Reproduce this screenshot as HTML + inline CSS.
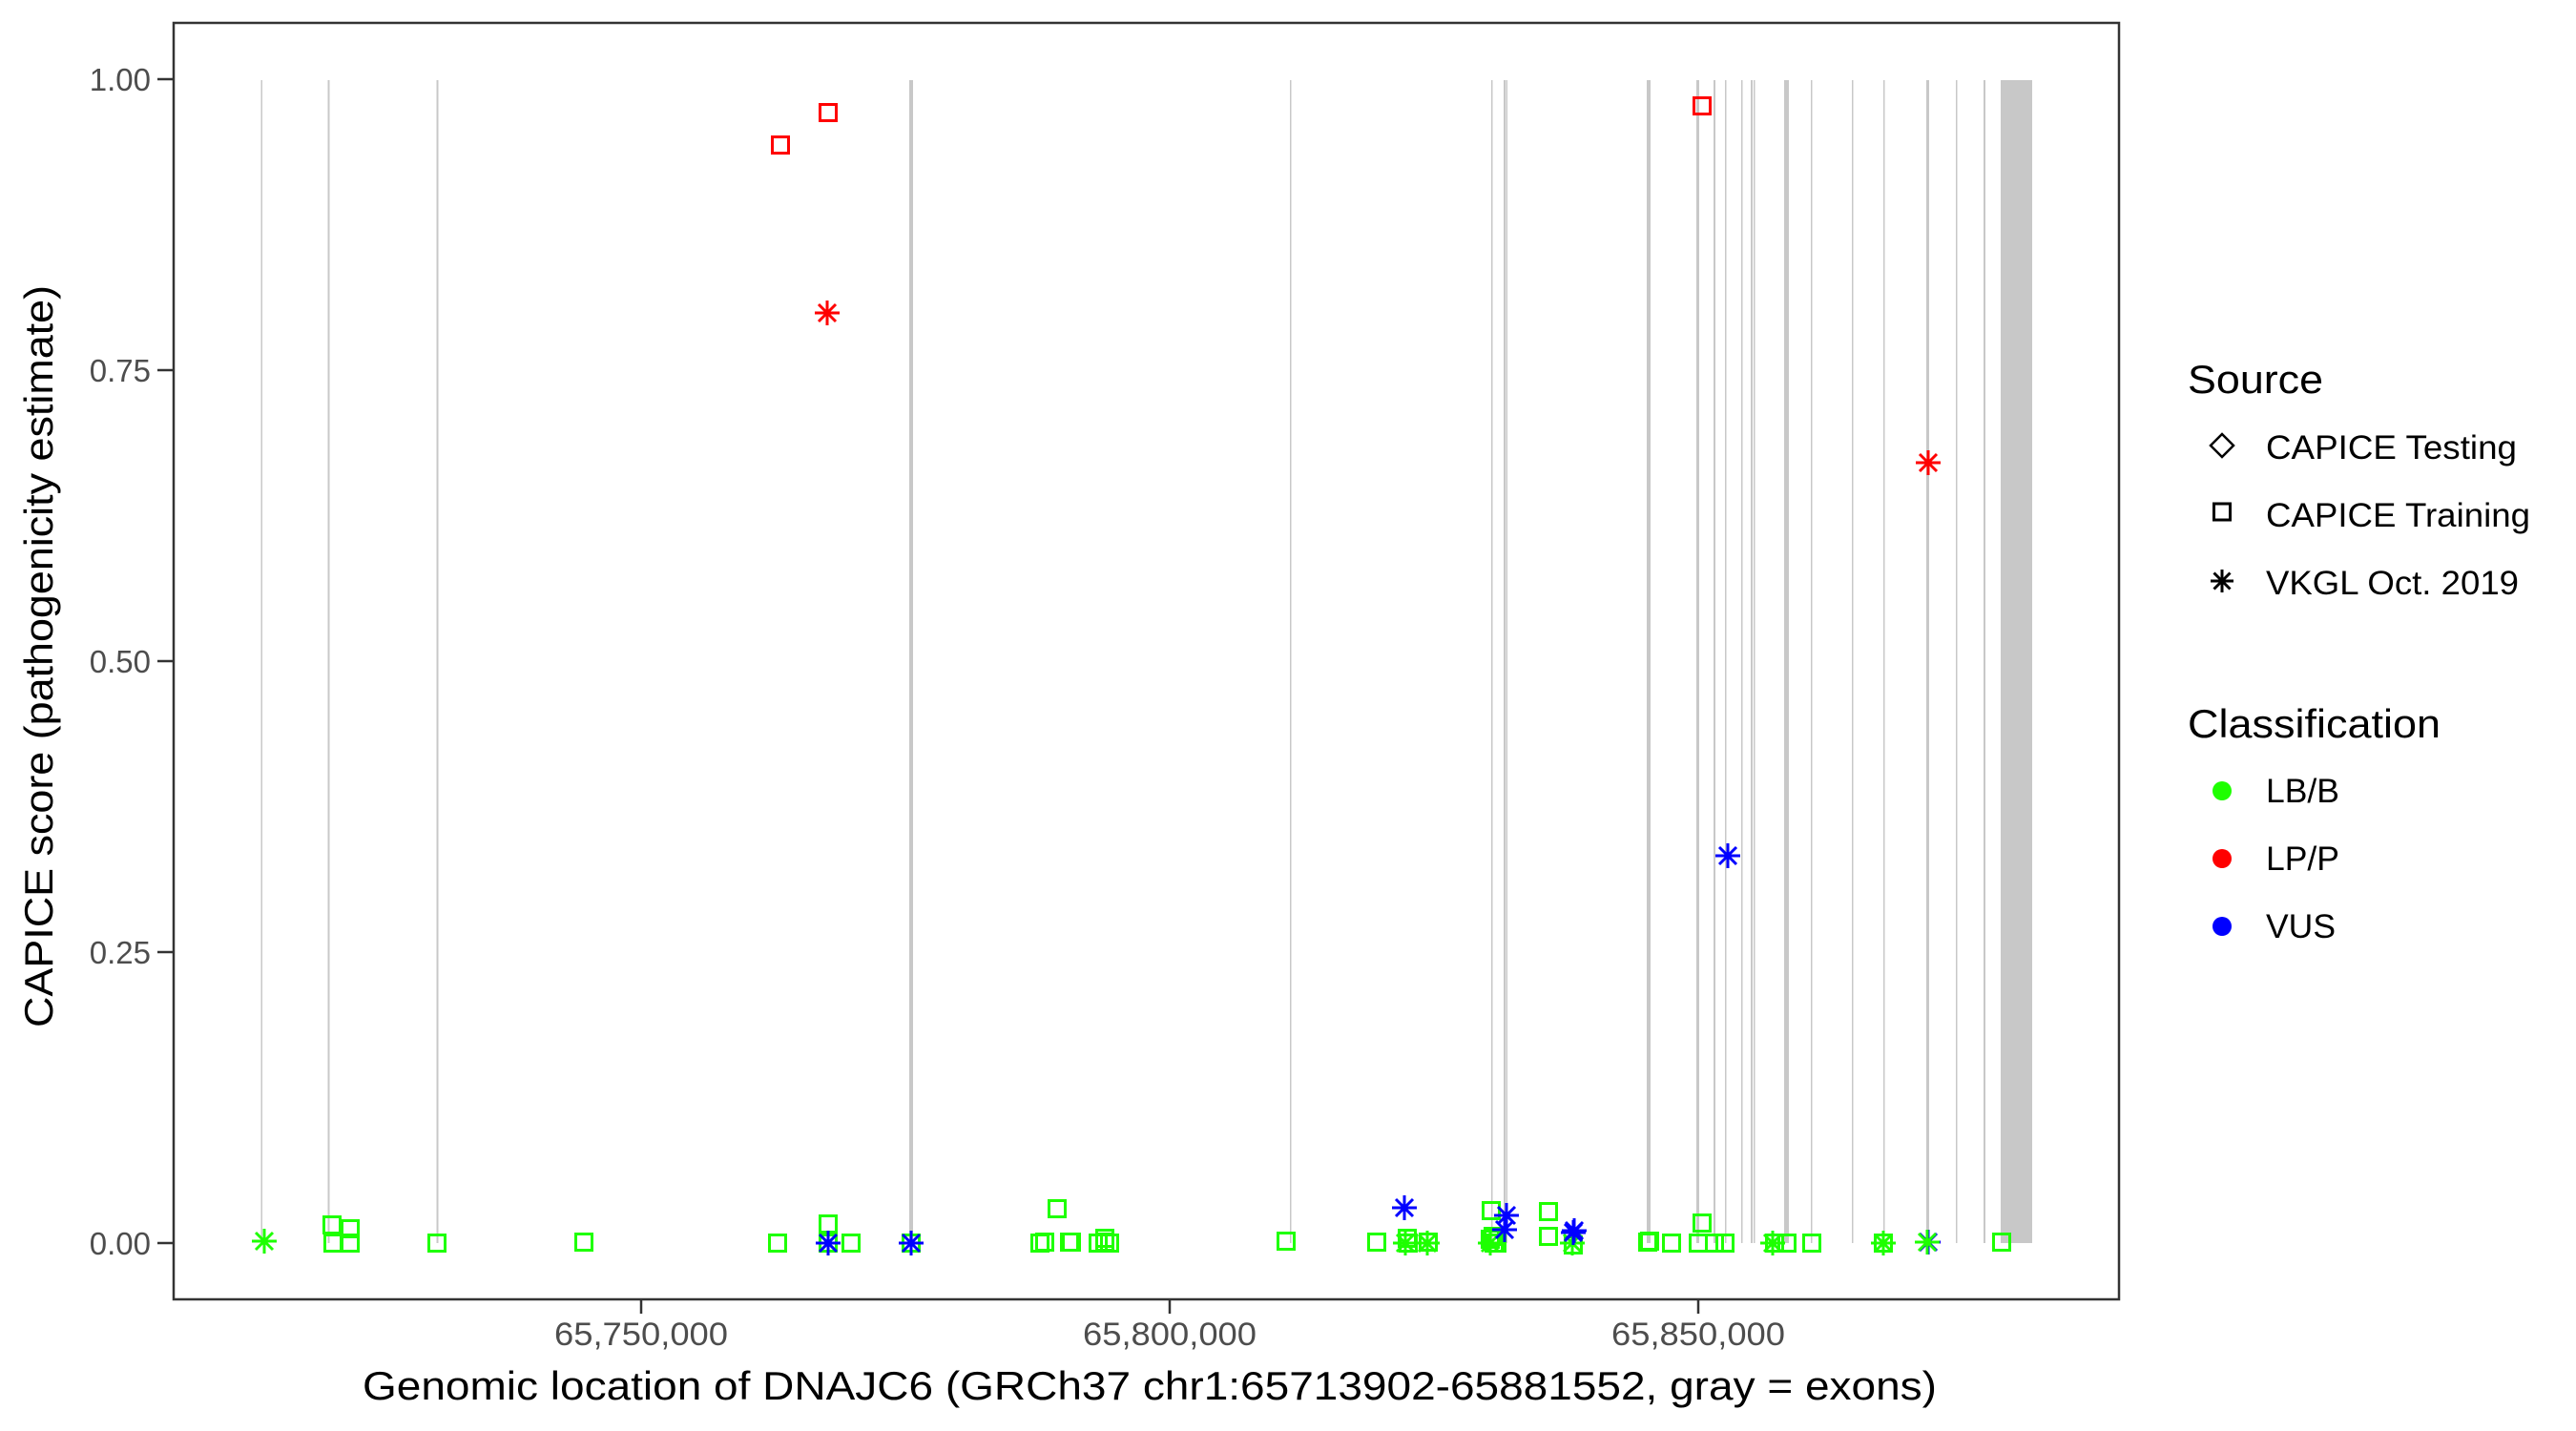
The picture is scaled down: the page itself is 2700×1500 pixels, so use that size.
<!DOCTYPE html>
<html><head><meta charset="utf-8"><style>html,body{margin:0;padding:0;background:#fff}svg{display:block}</style></head>
<body>
<svg width="2700" height="1500" viewBox="0 0 2700 1500" xmlns="http://www.w3.org/2000/svg" xmlns:xlink="http://www.w3.org/1999/xlink" font-family="Liberation Sans, Arial, sans-serif">
<defs>
<g id="sqG"><rect x="-8.5" y="-8.5" width="17" height="17" fill="none" stroke="#1eff00" stroke-width="3"/></g>
<g id="sqR"><rect x="-8.5" y="-8.5" width="17" height="17" fill="none" stroke="#ff0000" stroke-width="3"/></g>
<g id="asG" stroke="#1eff00" stroke-width="3"><line x1="-13" y1="0" x2="13" y2="0"/><line x1="0" y1="-13" x2="0" y2="13"/><line x1="-9" y1="-9" x2="9" y2="9"/><line x1="-9" y1="9" x2="9" y2="-9"/></g>
<g id="asB" stroke="#0000ff" stroke-width="3"><line x1="-13" y1="0" x2="13" y2="0"/><line x1="0" y1="-13" x2="0" y2="13"/><line x1="-9" y1="-9" x2="9" y2="9"/><line x1="-9" y1="9" x2="9" y2="-9"/></g>
<g id="asR" stroke="#ff0000" stroke-width="3"><line x1="-13" y1="0" x2="13" y2="0"/><line x1="0" y1="-13" x2="0" y2="13"/><line x1="-9" y1="-9" x2="9" y2="9"/><line x1="-9" y1="9" x2="9" y2="-9"/></g>
</defs>
<rect width="2700" height="1500" fill="#fff"/>
<g fill="#c8c8c8">
<rect x="273.5" y="84" width="1.5" height="1219"/>
<rect x="343.5" y="84" width="2" height="1219"/>
<rect x="457.5" y="84" width="2" height="1219"/>
<rect x="953" y="84" width="4" height="1219"/>
<rect x="1352" y="84" width="1.5" height="1219"/>
<rect x="1563" y="84" width="1.5" height="1219"/>
<rect x="1576" y="84" width="2" height="1219"/>
<rect x="1578.5" y="84" width="1.5" height="1219"/>
<rect x="1726" y="84" width="4" height="1219"/>
<rect x="1778" y="84" width="3" height="1219"/>
<rect x="1796" y="84" width="2" height="1219"/>
<rect x="1808" y="84" width="1.5" height="1219"/>
<rect x="1825" y="84" width="1.5" height="1219"/>
<rect x="1835" y="84" width="2" height="1219"/>
<rect x="1838" y="84" width="1.5" height="1219"/>
<rect x="1870" y="84" width="5" height="1219"/>
<rect x="1898" y="84" width="1.5" height="1219"/>
<rect x="1941" y="84" width="1.5" height="1219"/>
<rect x="1974" y="84" width="1.5" height="1219"/>
<rect x="2019" y="84" width="3" height="1219"/>
<rect x="2050" y="84" width="1.5" height="1219"/>
<rect x="2079" y="84" width="2" height="1219"/>
<rect x="2097" y="84" width="33" height="1219"/>
</g>
<use xlink:href="#asG" x="277" y="1301"/>
<use xlink:href="#sqG" x="348" y="1284"/><use xlink:href="#sqG" x="367" y="1288"/>
<use xlink:href="#sqG" x="349" y="1303"/><use xlink:href="#sqG" x="367" y="1303"/>
<use xlink:href="#sqG" x="458" y="1303"/><use xlink:href="#sqG" x="612" y="1302"/>
<use xlink:href="#sqG" x="815" y="1303"/>
<use xlink:href="#sqG" x="868" y="1283"/><use xlink:href="#sqG" x="868" y="1303"/>
<use xlink:href="#asG" x="868" y="1303"/><use xlink:href="#asB" x="868" y="1303"/>
<use xlink:href="#sqG" x="892" y="1303"/>
<use xlink:href="#sqG" x="955" y="1303"/><use xlink:href="#asB" x="955" y="1303"/>
<use xlink:href="#sqG" x="1108" y="1267"/>
<use xlink:href="#sqG" x="1090" y="1303"/><use xlink:href="#sqG" x="1095" y="1302"/>
<use xlink:href="#sqG" x="1121" y="1302"/><use xlink:href="#sqG" x="1123" y="1302"/>
<use xlink:href="#sqG" x="1151" y="1303"/><use xlink:href="#sqG" x="1158" y="1302"/><use xlink:href="#sqG" x="1158" y="1298"/><use xlink:href="#sqG" x="1163" y="1303"/>
<use xlink:href="#sqG" x="1348" y="1301"/>
<use xlink:href="#sqG" x="1443" y="1302"/>
<use xlink:href="#asB" x="1472" y="1266"/>
<use xlink:href="#sqG" x="1475" y="1298"/><use xlink:href="#sqG" x="1476" y="1303"/>
<use xlink:href="#asG" x="1473" y="1303"/><use xlink:href="#asG" x="1496" y="1303"/><use xlink:href="#sqG" x="1497" y="1302"/>
<use xlink:href="#sqG" x="1563" y="1269"/>
<use xlink:href="#sqG" x="1562" y="1299"/><use xlink:href="#sqG" x="1565" y="1296"/><use xlink:href="#sqG" x="1566" y="1303"/><use xlink:href="#sqG" x="1569" y="1303"/>
<use xlink:href="#asG" x="1562" y="1303"/>
<use xlink:href="#asB" x="1579" y="1274"/><use xlink:href="#asB" x="1577" y="1289"/>
<use xlink:href="#sqG" x="1623" y="1270"/><use xlink:href="#sqG" x="1623" y="1296"/>
<use xlink:href="#sqG" x="1649" y="1305"/><use xlink:href="#asG" x="1648" y="1303"/>
<use xlink:href="#asB" x="1649" y="1292"/><use xlink:href="#asB" x="1650" y="1290"/>
<use xlink:href="#sqG" x="1727" y="1302"/><use xlink:href="#sqG" x="1729" y="1301"/>
<use xlink:href="#sqG" x="1752" y="1303"/>
<use xlink:href="#sqG" x="1784" y="1282"/><use xlink:href="#sqG" x="1780" y="1303"/><use xlink:href="#sqG" x="1797" y="1303"/><use xlink:href="#sqG" x="1808" y="1303"/>
<use xlink:href="#asG" x="1858" y="1303"/><use xlink:href="#sqG" x="1860" y="1303"/><use xlink:href="#sqG" x="1873" y="1303"/>
<use xlink:href="#sqG" x="1899" y="1303"/>
<use xlink:href="#asG" x="1974" y="1303"/><use xlink:href="#sqG" x="1974" y="1303"/>
<use xlink:href="#asB" x="2021" y="1302"/><use xlink:href="#asG" x="2020" y="1302"/>
<use xlink:href="#sqG" x="2098" y="1302"/>
<use xlink:href="#sqR" x="818" y="152"/><use xlink:href="#sqR" x="868" y="118"/>
<use xlink:href="#asR" x="867" y="328"/>
<use xlink:href="#sqR" x="1784" y="111"/>
<use xlink:href="#asR" x="2021" y="485"/>
<use xlink:href="#asB" x="1811" y="897"/>
<rect x="182" y="24" width="2039" height="1338" fill="none" stroke="#333" stroke-width="2.5"/>
<g stroke="#333" stroke-width="2.5">
<line x1="165" y1="83" x2="182" y2="83"/><line x1="165" y1="388" x2="182" y2="388"/>
<line x1="165" y1="693" x2="182" y2="693"/><line x1="165" y1="998" x2="182" y2="998"/>
<line x1="165" y1="1303" x2="182" y2="1303"/>
<line x1="672" y1="1362" x2="672" y2="1377"/><line x1="1226" y1="1362" x2="1226" y2="1377"/><line x1="1780" y1="1362" x2="1780" y2="1377"/>
</g>
<g fill="#4d4d4d" font-size="33" text-anchor="end">
<text x="158" y="95">1.00</text><text x="158" y="400">0.75</text>
<text x="158" y="705">0.50</text><text x="158" y="1010">0.25</text><text x="158" y="1315">0.00</text>
</g>
<g fill="#4d4d4d" font-size="34" text-anchor="middle">
<text x="672" y="1410" textLength="182" lengthAdjust="spacingAndGlyphs">65,750,000</text>
<text x="1226" y="1410" textLength="182" lengthAdjust="spacingAndGlyphs">65,800,000</text>
<text x="1780" y="1410" textLength="182" lengthAdjust="spacingAndGlyphs">65,850,000</text>
</g>
<text x="1205" y="1467" font-size="42" text-anchor="middle" fill="#000" textLength="1650" lengthAdjust="spacingAndGlyphs">Genomic location of DNAJC6 (GRCh37 chr1:65713902-65881552, gray = exons)</text>
<text transform="translate(55,688) rotate(-90)" font-size="42" text-anchor="middle" fill="#000" textLength="778" lengthAdjust="spacingAndGlyphs">CAPICE score (pathogenicity estimate)</text>
<g fill="#000">
<text x="2293" y="412" font-size="42" textLength="142" lengthAdjust="spacingAndGlyphs">Source</text>
<text x="2375" y="481" font-size="35" textLength="263" lengthAdjust="spacingAndGlyphs">CAPICE Testing</text>
<text x="2375" y="552" font-size="35" textLength="277" lengthAdjust="spacingAndGlyphs">CAPICE Training</text>
<text x="2375" y="623" font-size="35" textLength="265" lengthAdjust="spacingAndGlyphs">VKGL Oct. 2019</text>
<text x="2293" y="773" font-size="42" textLength="265" lengthAdjust="spacingAndGlyphs">Classification</text>
<text x="2375" y="841" font-size="35" textLength="77" lengthAdjust="spacingAndGlyphs">LB/B</text>
<text x="2375" y="912" font-size="35" textLength="77" lengthAdjust="spacingAndGlyphs">LP/P</text>
<text x="2375" y="983" font-size="35" textLength="73" lengthAdjust="spacingAndGlyphs">VUS</text>
</g>
<polygon points="2329,455 2341,467 2329,479 2317,467" fill="none" stroke="#000" stroke-width="2.5"/>
<rect x="2320.5" y="528" width="17" height="17" fill="none" stroke="#000" stroke-width="3"/>
<g transform="translate(2329,609)" stroke="#000" stroke-width="3"><line x1="-12" y1="0" x2="12" y2="0"/><line x1="0" y1="-12" x2="0" y2="12"/><line x1="-8.5" y1="-8.5" x2="8.5" y2="8.5"/><line x1="-8.5" y1="8.5" x2="8.5" y2="-8.5"/></g>
<circle cx="2329" cy="829" r="10" fill="#1eff00"/>
<circle cx="2329" cy="900" r="10" fill="#ff0000"/>
<circle cx="2329" cy="971" r="10" fill="#0000ff"/>
</svg>
</body></html>
